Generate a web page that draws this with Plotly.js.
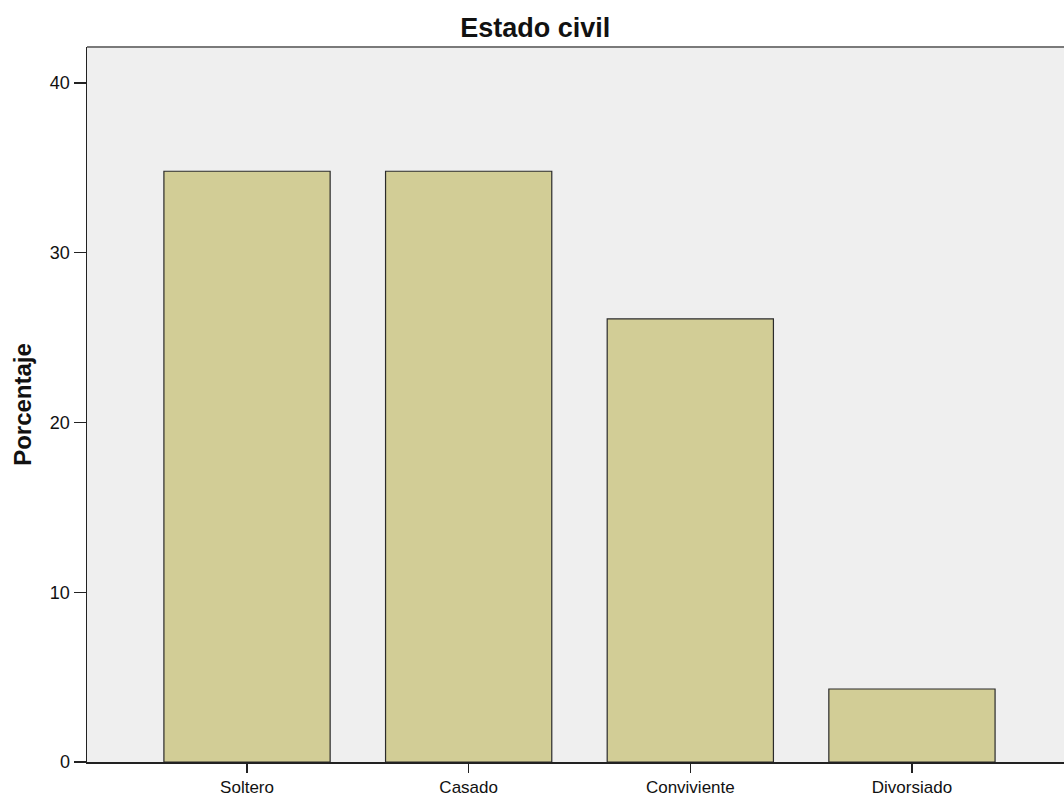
<!DOCTYPE html>
<html>
<head>
<meta charset="utf-8">
<script src="https://cdn.plot.ly/plotly-3.0.1.min.js"></script>
<style>html,body{margin:0;padding:0;background:#fff;}#chart{width:1064px;height:796px;}</style>
</head>
<body>
<div id="chart"></div>
<script>
var categories = ["Soltero", "Casado", "Conviviente", "Divorsiado"];
var percentages = [34.8, 34.8, 26.1, 4.3];
var yTicks = [0, 10, 20, 30, 40];

var trace = {
  type: "bar",
  x: [0, 1, 2, 3],
  y: percentages,
  width: 0.75,
  marker: {color: "#D2CD96", line: {color: "#2b2b2b", width: 1.2}},
  hoverinfo: "x+y"
};

var layout = {
  width: 1064, height: 796,
  margin: {l: 87, r: 0, t: 47, b: 34, pad: 0},
  paper_bgcolor: "#ffffff",
  plot_bgcolor: "#EFEFEF",
  font: {family: "Liberation Sans, Arial, sans-serif", color: "#111", size: 18},
  title: {text: "<b>Estado civil</b>", x: 0.503, xref: "container", y: 0.966, yref: "container", yanchor: "middle", font: {size: 27, color: "#111"}},
  showlegend: false,
  bargap: 0,
  xaxis: {
    range: [-0.722, 3.686],
    tickmode: "array", tickvals: [0, 1, 2, 3], ticktext: categories,
    showgrid: false, zeroline: false,
    showline: true, linecolor: "#222", linewidth: 1.5,
    ticks: "outside", ticklen: 9, tickwidth: 1.5, tickcolor: "#222",
    tickfont: {size: 17, color: "#111"}
  },
  yaxis: {
    range: [0, 42.12],
    tickmode: "array", tickvals: yTicks, ticktext: yTicks.map(String),
    showgrid: false, zeroline: false,
    showline: true, linecolor: "#222", linewidth: 1.5,
    ticks: "outside", ticklen: 12, tickwidth: 1.5, tickcolor: "#222",
    tickfont: {size: 18, color: "#111"},
    title: {text: "<b>Porcentaje</b>", font: {size: 24, color: "#111"}, standoff: 11}
  },
  shapes: [{type: "line", xref: "paper", yref: "paper", x0: 0, x1: 1, y0: 1, y1: 1, line: {color: "#7a7a7a", width: 2}}]
};

Plotly.newPlot("chart", [trace], layout, {displayModeBar: false, staticPlot: true});
</script>
</body>
</html>
